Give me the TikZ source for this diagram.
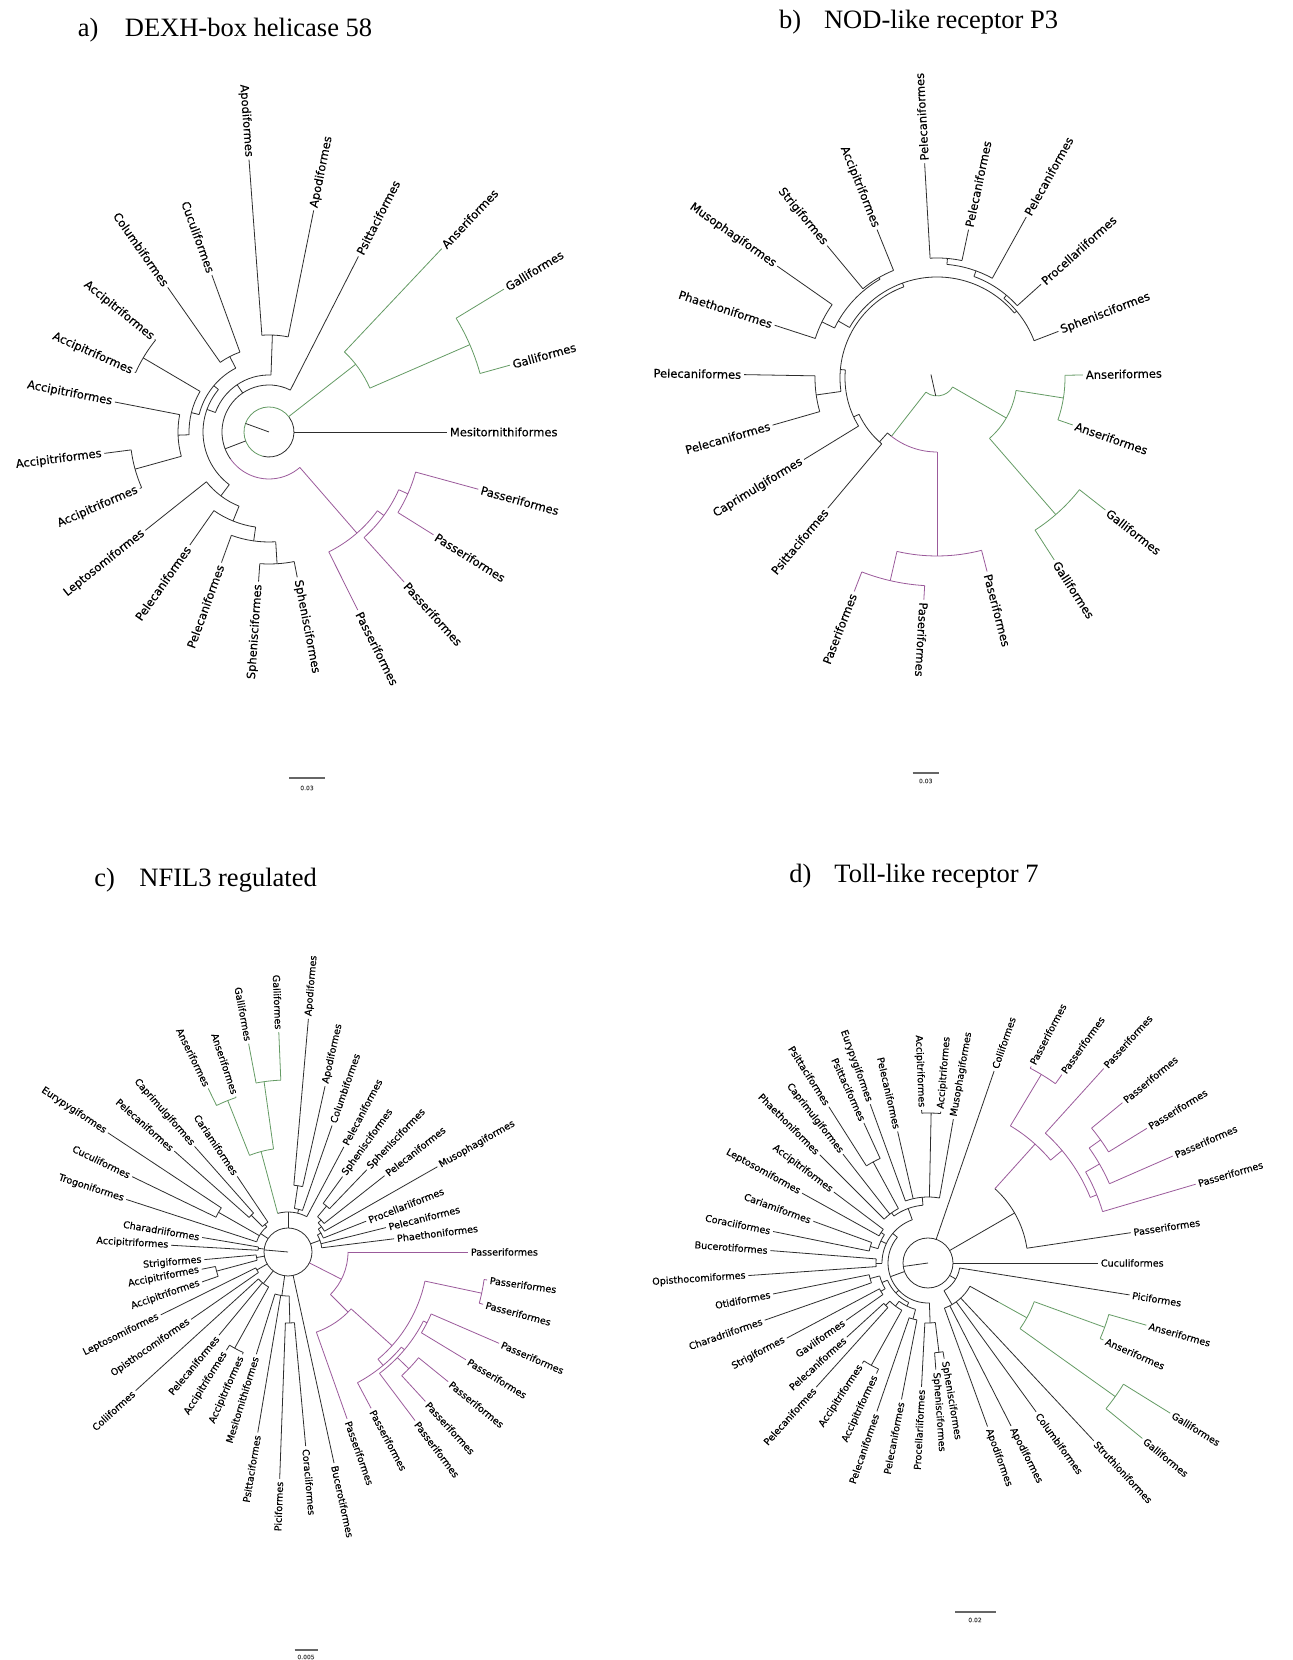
\documentclass[tikz,border=0pt]{standalone}
\usepackage{fontspec}
\newfontfamily\lblfont[FakeBold=0.25]{DejaVu Sans}
\newfontfamily\ttlfont{Liberation Serif}
\definecolor{ink}{RGB}{45,45,45}
\definecolor{grn}{RGB}{100,155,100}
\definecolor{pur}{RGB}{155,90,155}
\newcounter{lfc}
\tikzset{
  lbl/.style={font=\lblfont\fontsize{11.5}{11.5}\selectfont, inner sep=2.5pt, text=black},
  smalllbl/.style={lbl/.append style={font=\lblfont\fontsize{9.6}{9.6}\selectfont}},
  ttl/.style={font=\ttlfont\fontsize{26.5}{30}\selectfont, anchor=base west, inner sep=0pt, text=black},
  scalebar/.style={line width=1.4pt, draw=black!60},
  scaletxt/.style={font=\lblfont\fontsize{6}{6}\selectfont, inner sep=1pt, text=black!70}
}
\newcommand{\leafR}[5][ink]{\stepcounter{lfc}\draw[#1] (#2:#3) -- (#2:#4);\node[lbl,anchor=west,rotate=#2] (lf\thelfc) at (#2:#4) {#5};}
\newcommand{\leafL}[5][ink]{\stepcounter{lfc}\draw[#1] (#2:#3) -- (#2:#4);\node[lbl,anchor=east,rotate={#2-180}] (lf\thelfc) at (#2:#4) {#5};}
\newcommand{\arcC}[4][ink]{\draw[#1] (#2:#4) arc[start angle=#2, end angle=#3, radius=#4];}
\newcommand{\radC}[4][ink]{\draw[#1] (#2:#3) -- (#2:#4);}
\begin{document}
\begin{tikzpicture}[x=1pt,y=1pt,line width=0.8pt,color=ink]
\fill[white] (0,0) rectangle (1293,1660);
\useasboundingbox (0,0) rectangle (1293,1660);

% ---------- titles ----------
\node[ttl] (ta) at (77.5,1623) {a)};
\node[ttl] (tta) at (124.5,1623) {DEXH-box helicase 58};
\node[ttl] (tb) at (778.8,1631.7) {b)};
\node[ttl] (ttb) at (823.7,1631.7) {NOD-like receptor P3};
\node[ttl] (tc) at (94,773) {c)};
\node[ttl] (ttc) at (139,773) {NFIL3 regulated};
\node[ttl] (td) at (789,777) {d)};
\node[ttl] (ttd) at (834,777) {Toll-like receptor 7};

% ---------- scale bars ----------
\draw[scalebar] (289,882) -- (325,882);
\node[scaletxt] (sa) at (307,872) {0.03};
\draw[scalebar] (912.7,887) -- (939,887);
\node[scaletxt] (sb) at (925.7,879) {0.03};
\draw[scalebar] (294.7,10) -- (317.6,10);
\node[scaletxt] (sc) at (306,3) {0.005};
\draw[scalebar] (955,48) -- (996,48);
\node[scaletxt] (sd) at (975,40) {0.02};

% ================= panel a =================
\begin{scope}[shift={(269,1228)}]
\arcC[grn]{36}{255}{25}
\arcC{255}{396}{25}
\radC{160}{0}{25}
\leafR{0}{25}{178}{Mesitornithiformes}
\radC[grn]{38}{25}{110}
\arcC[grn]{23.5}{46.7}{110}
\leafR[grn]{46.7}{110}{252}{Anseriformes}
\radC[grn]{23.5}{110}{219}
\arcC[grn]{15.5}{31.3}{219}
\leafR[grn]{31.3}{219}{275}{Galliformes}
\leafR[grn]{15.5}{219}{250}{Galliformes}
\radC{201}{25}{47}
\arcC{63}{215}{47}
\arcC[pur]{215}{311}{47}
\leafR{63}{47}{197}{Psittaciformes}
\radC[pur]{311}{47}{134}
\arcC[pur]{296.5}{324}{134}
\leafR[pur]{296.5}{134}{199}{Passeriformes}
\radC[pur]{324}{134}{142}
\arcC[pur]{312}{336}{142}
\leafR[pur]{312}{142}{202}{Passeriformes}
\radC[pur]{336}{142}{152}
\arcC[pur]{328}{344.7}{152}
\leafR[pur]{328}{152}{194}{Passeriformes}
\leafR[pur]{344.7}{152}{217}{Passeriformes}
\radC{124}{47}{57}
\arcC{88}{160}{57}
\radC{88}{57}{97}
\arcC{78.6}{94.2}{97}
\leafL{94.2}{97}{273}{Apodiformes}
\leafR{78.6}{97}{226}{Apodiformes}
\radC{160}{57}{66}
\arcC{140}{233}{66}
\radC{140}{66}{72}
\arcC{117.5}{166}{72}
\radC{117.5}{72}{85}
\arcC{110}{125}{85}
\leafL{110}{85}{167}{Cuculiformes}
\leafL{125}{85}{176.5}{Columbiformes}
\radC{166}{72}{80}
\arcC{149.5}{182}{80}
\radC{149.5}{80}{146}
\arcC{141}{156}{146}
\leafL{141}{146}{147}{Accipitriformes}
\leafL{156}{146}{147}{Accipitriformes}
\radC{182}{80}{91}
\arcC{169}{195.5}{91}
\leafL{169}{91}{157}{Accipitriformes}
\radC{195.5}{91}{139}
\arcC{187.4}{203.6}{139}
\leafL{187.4}{139}{166}{Accipitriformes}
\leafL{203.6}{139}{141}{Accipitriformes}
\radC{233}{66}{80}
\arcC{218.5}{248}{80}
\leafL{218.5}{80}{158}{Leptosomiformes}
\radC{248}{80}{96}
\arcC{235}{262}{96}
\leafL{235}{96}{138}{Pelecaniformes}
\radC{262}{96}{110}
\arcC{250}{273.5}{110}
\leafL{250}{110}{139}{Pelecaniformes}
\radC{273.5}{110}{132}
\arcC{266}{281}{132}
\leafL{266}{132}{150}{Sphenisciformes}
\leafR{281}{132}{148}{Sphenisciformes}
\end{scope}

% ================= panel b =================
\begin{scope}[shift={(937,1282)}]
\arcC[grn]{232}{330}{18}
\draw (266:18) -- (150:7);
\radC[grn]{232}{18}{74}
\radC[grn]{330}{18}{80}
\arcC[grn]{311}{351}{80}
\radC[grn]{351}{80}{128}
\arcC[grn]{340.9}{361.2}{128}
\leafR[grn]{1.2}{128}{146}{Anseriformes}
\leafR[grn]{340.9}{128}{143.6}{Anseriformes}
\radC[grn]{311}{80}{181}
\arcC[grn]{302.8}{321.9}{181}
\leafR[grn]{321.9}{181}{214}{Galliformes}
\leafR[grn]{302.8}{181}{216.5}{Galliformes}
\arcC{228}{232}{74}
\arcC[pur]{232}{270}{74}
\radC[pur]{270}{74}{178}
\arcC[pur]{257}{284.5}{178}
\leafR[pur]{284.5}{178}{200}{Paseriformes}
\radC[pur]{257}{178}{208}
\arcC[pur]{248.8}{266.6}{208}
\leafL[pur]{248.8}{208}{229}{Paseriformes}
\leafR[pur]{266.6}{208}{222}{Paseriformes}
\radC{228}{74}{86}
\arcC{205}{230}{86}
\leafL{230}{86}{170}{Psittaciformes}
\radC{205}{86}{92}
\arcC{175}{211.5}{92}
\leafL{211.5}{92}{156}{Caprimulgiformes}
\radC{175}{92}{97}
\arcC{110}{188}{97}
\radC{188}{97}{122}
\arcC{179}{196}{122}
\leafL{179}{122}{193}{Pelecaniformes}
\leafL{196}{122}{171}{Pelecaniformes}
\radC{110}{97}{101}
\arcC{40}{150}{101}
\radC{150}{101}{114}
\arcC{120}{154}{114}
\radC{154}{114}{128}
\arcC{145}{162}{128}
\leafL{145}{128}{195}{Musophagiformes}
\leafL{162}{128}{170.7}{Phaethoniformes}
\radC{120}{114}{116}
\arcC{112}{129.7}{116}
\leafL{112}{116}{160}{Accipitriformes}
\leafL{129.7}{116}{172}{Strigiformes}
\radC{40}{101}{104}
\arcC{21}{50}{104}
\leafR{21}{104}{130}{Sphenisciformes}
\radC{50}{104}{108}
\arcC{42}{70}{108}
\leafR{42}{108}{140}{Procellariiformes}
\radC{70}{108}{114}
\arcC{61}{85}{114}
\leafR{61}{114}{184}{Pelecaniformes}
\radC{85}{114}{120}
\arcC{78}{93.3}{120}
\leafR{78}{120}{151.6}{Pelecaniformes}
\leafR{93.3}{120}{215}{Pelecaniformes}
\end{scope}

% ================= panel c =================
\begin{scope}[shift={(288,408)},smalllbl]
\draw (0,0) circle[radius=24];
\radC{175}{0}{24}
\radC[pur]{333}{24}{60}
\arcC[pur]{315}{360}{60}
\leafR[pur]{0}{60}{180}{Passeriformes}
\radC[pur]{315}{60}{85}
\arcC[pur]{289.5}{318}{85}
\leafR[pur]{289.5}{85}{177}{Passeriformes}
\radC[pur]{318}{85}{140}
\arcC[pur]{310}{348}{140}
\radC[pur]{348}{140}{198}
\arcC[pur]{345}{352}{198}
\leafR[pur]{352}{198}{201}{Passeriformes}
\leafR[pur]{345}{198}{202}{Passeriformes}
\radC[pur]{310}{140}{148}
\arcC[pur]{298}{320}{148}
\leafR[pur]{298}{148}{177}{Passeriformes}
\radC[pur]{320}{148}{152}
\arcC[pur]{307}{333}{152}
\leafR[pur]{307}{152}{211}{Passeriformes}
\radC[pur]{316}{152}{168}
\arcC[pur]{312.6}{321}{168}
\leafR[pur]{312.6}{168}{203}{Passeriformes}
\leafR[pur]{321}{168}{206}{Passeriformes}
\radC[pur]{333}{152}{156}
\arcC[pur]{328.8}{336.6}{156}
\leafR[pur]{328.8}{156}{208}{Passeriformes}
\leafR[pur]{336.6}{156}{230}{Passeriformes}
% right black
\radC{20}{24}{34}
\arcC{7.1}{30}{34}
\leafR{7.1}{34}{107}{Phaethoniformes}
\leafR{14}{34}{101}{Pelecaniformes}
\radC{30}{34}{38}
\arcC{21.5}{37}{38}
\leafR{21.5}{38}{84}{Procellariiformes}
\radC{37}{38}{42}
\arcC{29.7}{44}{42}
\leafR{29.7}{42}{172}{Musophagiformes}
\radC{44}{42}{46}
\arcC{38.3}{50}{46}
\leafR{38.3}{46}{123}{Pelecaniformes}
\radC{50}{46}{60}
\arcC{46.2}{54.1}{60}
\leafR{46.2}{60}{114}{Sphenisciformes}
\leafR{54.1}{60}{93}{Sphenisciformes}
% top
\radC{90}{24}{40}
\arcC{62}{105}{40}
\leafR{62}{40}{119}{Pelecaniformes}
\radC{76}{40}{44}
\arcC{70.8}{81.6}{44}
\leafR{70.8}{44}{134}{Columbiformes}
\radC{81.6}{44}{67}
\arcC{77.4}{85}{67}
\leafR{77.4}{67}{170}{Apodiformes}
\leafR{85}{67}{234}{Apodiformes}
% green
\radC[grn]{105}{40}{104}
\arcC[grn]{98}{111.7}{104}
\radC[grn]{98}{104}{172}
\arcC[grn]{92.4}{100.7}{172}
\leafL[grn]{92.4}{172}{220}{Galliformes}
\leafL[grn]{100.7}{172}{212}{Galliformes}
\radC[grn]{111.7}{104}{163}
\arcC[grn]{108.6}{116}{163}
\leafL[grn]{108.6}{163}{164}{Anseriformes}
\leafL[grn]{116}{163}{182}{Anseriformes}
% left black
\arcC{123.9}{135}{36}
\leafL{123.9}{36}{91}{Cariamiformes}
\radC{135}{36}{52}
\arcC{131.5}{138.4}{52}
\leafL{131.5}{52}{141}{Caprimulgiformes}
\leafL{138.4}{52}{152}{Pelecaniformes}
\radC{130}{33}{36}
\arcC{130}{162}{33}
\radC{150.3}{33}{80}
\arcC{146.5}{154.2}{80}
\leafL{146.5}{80}{216}{Eurypygiformes}
\leafL{154.2}{80}{173}{Cuculiformes}
\leafL{162}{33}{170}{Trogoniformes}
\radC{146}{24}{33}
\radC{173}{24}{30}
\arcC{170.4}{176.7}{30}
\leafL{170.4}{30}{87}{Charadriiformes}
\leafL{176.7}{30}{117}{Accipitriformes}
\radC{190}{24}{32}
\arcC{185.2}{195}{32}
\leafL{185.2}{32}{84}{Strigiformes}
\radC{195}{32}{74}
\arcC{191.3}{199.2}{74}
\leafL{191.3}{74}{88}{Accipitriformes}
\leafL{199.2}{74}{91}{Accipitriformes}
\radC{210}{24}{36}
\arcC{206.3}{214.8}{36}
\leafL{206.3}{36}{142}{Leptosomiformes}
\leafL{214.8}{36}{118}{Opisthocomiformes}
\radC{232}{24}{40}
\arcC{222.3}{241}{40}
\leafL{222.3}{40}{206}{Coliiformes}
\leafL{230.3}{40}{108}{Pelecaniformes}
\radC{241}{40}{110}
\arcC{237.9}{246}{110}
\leafL{237.9}{110}{116}{Accipitriformes}
\leafL{246}{110}{112}{Accipitriformes}
\radC{262}{24}{44}
\arcC{252.8}{271.5}{44}
\leafL{252.8}{44}{107}{Mesitornithiformes}
\leafL{260.5}{44}{183}{Psittaciformes}
\radC{271.5}{44}{71}
\arcC{267.9}{275.2}{71}
\leafL{267.9}{71}{227}{Piciformes}
\leafR{275.2}{71}{195}{Coraciiformes}
\leafR{282.3}{24}{216}{Bucerotiformes}
\end{scope}

% ================= panel d =================
\begin{scope}[shift={(928,397)},smalllbl]
\draw (0,0) circle[radius=25];
\radC{188}{0}{25}
\leafR{0}{25}{170}{Cuculiformes}
\radC{330}{25}{32}
\arcC{300}{351}{32}
\leafR{351}{32}{204}{Piciformes}
\radC{300}{32}{48}
\arcC{290}{331}{48}
\leafR{290}{48}{174}{Apodiformes}
\leafR{297}{48}{183}{Apodiformes}
\leafR{306}{48}{184}{Columbiformes}
\leafR{313}{48}{243}{Struthioniformes}
\radC{331}{48}{80}
\radC[grn]{331}{80}{113}
\arcC[grn]{324.5}{340}{113}
\radC[grn]{340}{113}{188}
\arcC[grn]{336.3}{344.1}{188}
\leafR[grn]{344.1}{188}{227}{Anseriformes}
\leafR[grn]{336.3}{188}{191.5}{Anseriformes}
\radC[grn]{324.5}{113}{230}
\arcC[grn]{320.7}{328.2}{230}
\leafR[grn]{328.2}{230}{285}{Galliformes}
\leafR[grn]{320.7}{230}{277}{Galliformes}
% upper right
\radC{30}{25}{100}
\arcC{8.5}{48}{100}
\leafR{8.5}{100}{205}{Passeriformes}
\radC[pur]{48}{100}{160}
\arcC[pur]{40}{59}{160}
\radC[pur]{59}{160}{220}
\arcC[pur]{54.6}{62.3}{220}
\leafR[pur]{62.3}{220}{222}{Passeriformes}
\leafR[pur]{54.6}{220}{231}{Passeriformes}
\radC[pur]{40}{160}{175}
\arcC[pur]{22}{47.9}{175}
\leafR[pur]{47.9}{175}{262}{Passeriformes}
\radC[pur]{22}{175}{182}
\arcC[pur]{16.4}{30}{182}
\leafR[pur]{16.4}{182}{279}{Passeriformes}
\radC[pur]{30}{182}{198}
\arcC[pur]{23.6}{35.5}{198}
\leafR[pur]{23.6}{198}{267}{Passeriformes}
\radC[pur]{35.5}{198}{212}
\arcC[pur]{31.6}{39.5}{212}
\leafR[pur]{39.5}{212}{252}{Passeriformes}
\leafR[pur]{31.6}{212}{257}{Passeriformes}
\leafR{71}{25}{203}{Coliiformes}
% upper left
\radC{88.8}{66}{150}
\arcC{85.2}{92.4}{150}
\leafR{85.2}{150}{152}{Accipitriformes}
\leafL{92.4}{150}{153}{Accipitriformes}
\arcC{80}{110}{66}
\leafR{80}{66}{146}{Musophagiformes}
\leafL{103}{66}{135}{Pelecaniformes}
\leafL{110}{66}{169}{Eurypygiformes}
\radC{95}{58}{66}
\radC{118.5}{62}{115}
\arcC{114.6}{122.4}{115}
\leafL{114.6}{115}{154}{Psittaciformes}
\leafL{122.4}{115}{185}{Psittaciformes}
\arcC{118.5}{135}{62}
\leafL{128}{62}{138}{Caprimulgiformes}
\leafL{135}{62}{153}{Phaethoniformes}
\radC{126}{58}{62}
\arcC{95}{126}{58}
\radC{110}{46}{58}
\arcC{143}{151}{56}
\leafL{143}{56}{118}{Accipitriformes}
\leafL{151}{56}{144}{Leptosomiformes}
\radC{147}{52}{56}
\arcC{160}{168.5}{60}
\leafL{160}{60}{122}{Cariamiformes}
\leafL{168.5}{60}{158}{Coraciiformes}
\radC{164}{52}{60}
\arcC{147}{164}{52}
\radC{155}{46}{52}
\arcC{175.5}{184}{52}
\leafL{175.5}{52}{158}{Bucerotiformes}
\leafL{184}{52}{180}{Opisthocomiformes}
\radC{180}{46}{52}
\arcC{110}{180}{46}
\radC{140}{40}{46}
\arcC{191.3}{199.3}{60}
\leafL{191.3}{60}{158}{Otidiformes}
\leafL{199.3}{60}{173}{Charadriiformes}
\radC{195}{50}{60}
\arcC{208}{215}{55}
\leafL{208}{55}{160}{Strigiformes}
\leafL{215}{55}{100}{Gaviiformes}
\radC{211}{50}{55}
\arcC{195}{211}{50}
\radC{203}{44}{50}
\arcC{222.4}{228}{60}
\leafL{222.4}{60}{110}{Pelecaniformes}
\leafL{228}{60}{167}{Pelecaniformes}
\radC{225}{54}{60}
\radC{241}{54}{117}
\arcC{236.8}{245}{117}
\leafL{236.8}{117}{120}{Accipitriformes}
\leafL{245}{117}{122}{Accipitriformes}
\arcC{225}{241}{54}
\radC{233}{48}{54}
\arcC{251}{259}{58}
\leafL{251}{58}{157}{Pelecaniformes}
\leafL{259}{58}{139}{Pelecaniformes}
\radC{255}{48}{58}
\arcC{233}{255}{48}
\radC{244}{44}{48}
\arcC{203}{244}{44}
\radC{223}{40}{44}
\arcC{267}{277}{60}
\leafL{267}{60}{124}{Procellariiformes}
\radC{277}{60}{90}
\arcC{274.2}{279.6}{90}
\leafR{274.2}{90}{107}{Sphenisciformes}
\leafR{279.6}{90}{97}{Sphenisciformes}
\radC{272}{40}{60}
\arcC{140}{272}{40}
\radC{200}{25}{40}
\end{scope}
\end{tikzpicture}
\end{document}
